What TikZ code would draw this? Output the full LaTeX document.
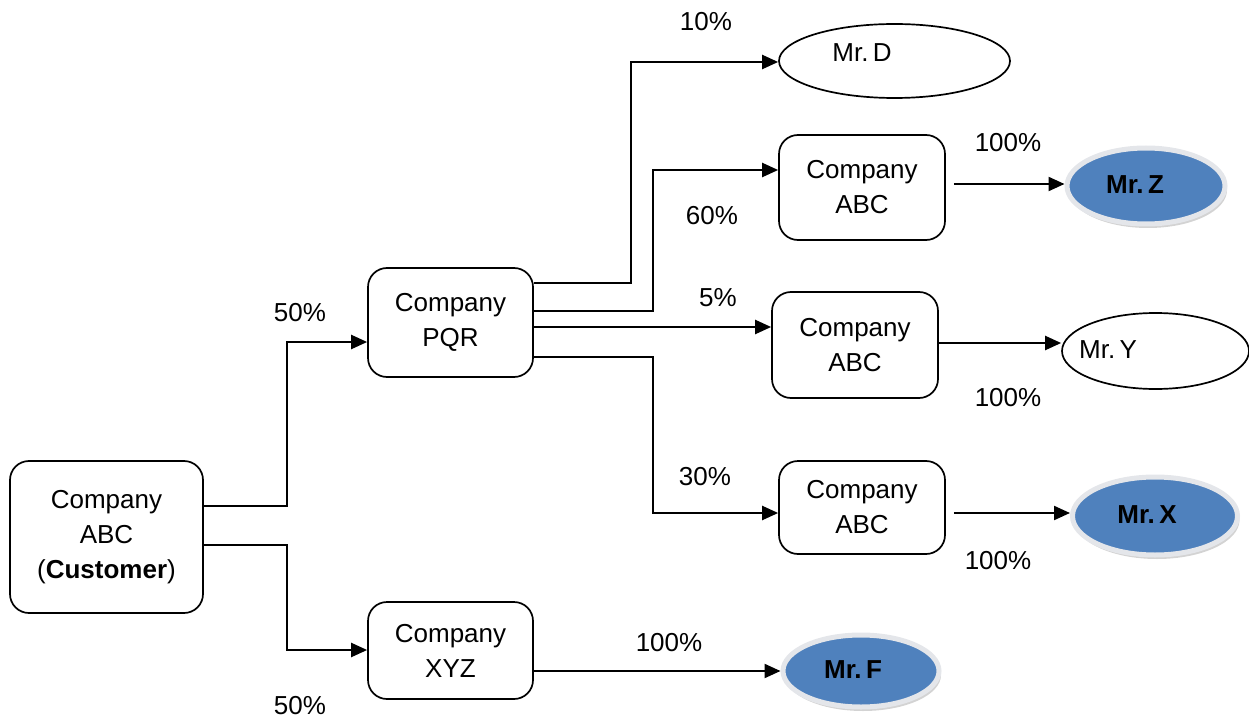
\documentclass[tikz,border=0pt]{standalone}
\usepackage{fontspec}
\setmainfont{Liberation Sans}
\usetikzlibrary{arrows.meta,shapes.geometric,shadows}
\definecolor{ellblue}{HTML}{4F81BD}
\definecolor{rimgray}{HTML}{E4E6EA}
\tikzset{
  box/.style={draw, rounded corners=19pt, line width=1.7pt, fill=white, align=center},
  oval/.style={draw, ellipse, line width=1.7pt, fill=white},
  blueoval/.style={ellipse, fill=ellblue, draw=rimgray, line width=5pt,
     drop shadow={shadow xshift=2pt, shadow yshift=-4pt, opacity=0.35, fill=gray}},
  arr/.style={line width=2.2pt, -{Triangle[length=16pt,width=14pt]}},
  pct/.style={inner sep=2pt},
  txt/.style={inner sep=0pt},
}
\begin{document}
\begin{tikzpicture}[x=1pt,y=-1pt,font=\fontsize{26}{35}\selectfont]
\useasboundingbox (0,0) rectangle (1249,719);
% boxes
\node[box, minimum width=193pt, minimum height=152pt] (cust) at (106.5,537) {Company\\ABC\\(\textbf{Customer})};
\node[box, minimum width=165pt, minimum height=109pt] (pqr) at (450.5,322.5) {Company\\PQR};
\node[box, minimum width=165pt, minimum height=97pt] (xyz) at (450.5,650.5) {Company\\XYZ};
\node[box, minimum width=166pt, minimum height=105pt] (abc1) at (862,187.5) {Company\\ABC};
\node[box, minimum width=166pt, minimum height=106pt] (abc2) at (855,345) {Company\\ABC};
\node[box, minimum width=166pt, minimum height=93pt] (abc3) at (862,507.5) {Company\\ABC};
% ellipses
\node[oval, minimum width=231pt, minimum height=74pt] (mrD) at (894.5,61) {};
\node[txt] (tD) at (862,53) {Mr.\,D};
\node[oval, minimum width=187pt, minimum height=76pt] (mrY) at (1155.5,351) {};
\node[txt] (tY) at (1108,350) {Mr.\,Y};
\node[blueoval, minimum width=158pt, minimum height=76pt] (mrZ) at (1146,186) {};
\node[txt] (tZ) at (1135,185) {\textbf{Mr.\,Z}};
\node[blueoval, minimum width=165pt, minimum height=78pt] (mrX) at (1155,516) {};
\node[txt] (tX) at (1147,515) {\textbf{Mr.\,X}};
\node[blueoval, minimum width=156pt, minimum height=72pt] (mrF) at (861,671) {};
\node[txt] (tF) at (853,670) {\textbf{Mr.\,F}};
% connectors
\draw[arr] (cust.east |- 0,506) -| (287,342) -- (pqr.west |- 0,342);
\draw[arr] (cust.east |- 0,545) -| (287,650) -- (xyz.west |- 0,650);
\draw[arr] (pqr.east |- 0,283) -| (631,62) -- (mrD.west |- 0,62);
\draw[arr] (pqr.east |- 0,311) -| (653,170) -- (abc1.west |- 0,170);
\draw[arr] (pqr.east |- 0,327) -- (abc2.west |- 0,327);
\draw[arr] (pqr.east |- 0,357) -| (653,513) -- (abc3.west |- 0,513);
\draw[arr, shorten <=8pt] (abc1.east |- 0,184) -- (mrZ.west |- 0,184);
\draw[arr] (abc2.east |- 0,343) -- (mrY.west |- 0,343);
\draw[arr, shorten <=8pt] (abc3.east |- 0,513) -- (mrX.west |- 0,513);
\draw[arr] (xyz.east |- 0,671) -- (mrF.west |- 0,671);
% labels
\node[pct] (l1) at (300,313) {50\%};
\node[pct] (l2) at (300,706) {50\%};
\node[pct] (l3) at (706,22) {10\%};
\node[pct] (l4) at (712,216) {60\%};
\node[pct] (l5) at (718,298) {5\%};
\node[pct] (l6) at (705,477) {30\%};
\node[pct] (l7) at (1008,143) {100\%};
\node[pct] (l8) at (1008,398) {100\%};
\node[pct] (l9) at (998,561) {100\%};
\node[pct] (l10) at (669,643) {100\%};
\end{tikzpicture}
\end{document}
